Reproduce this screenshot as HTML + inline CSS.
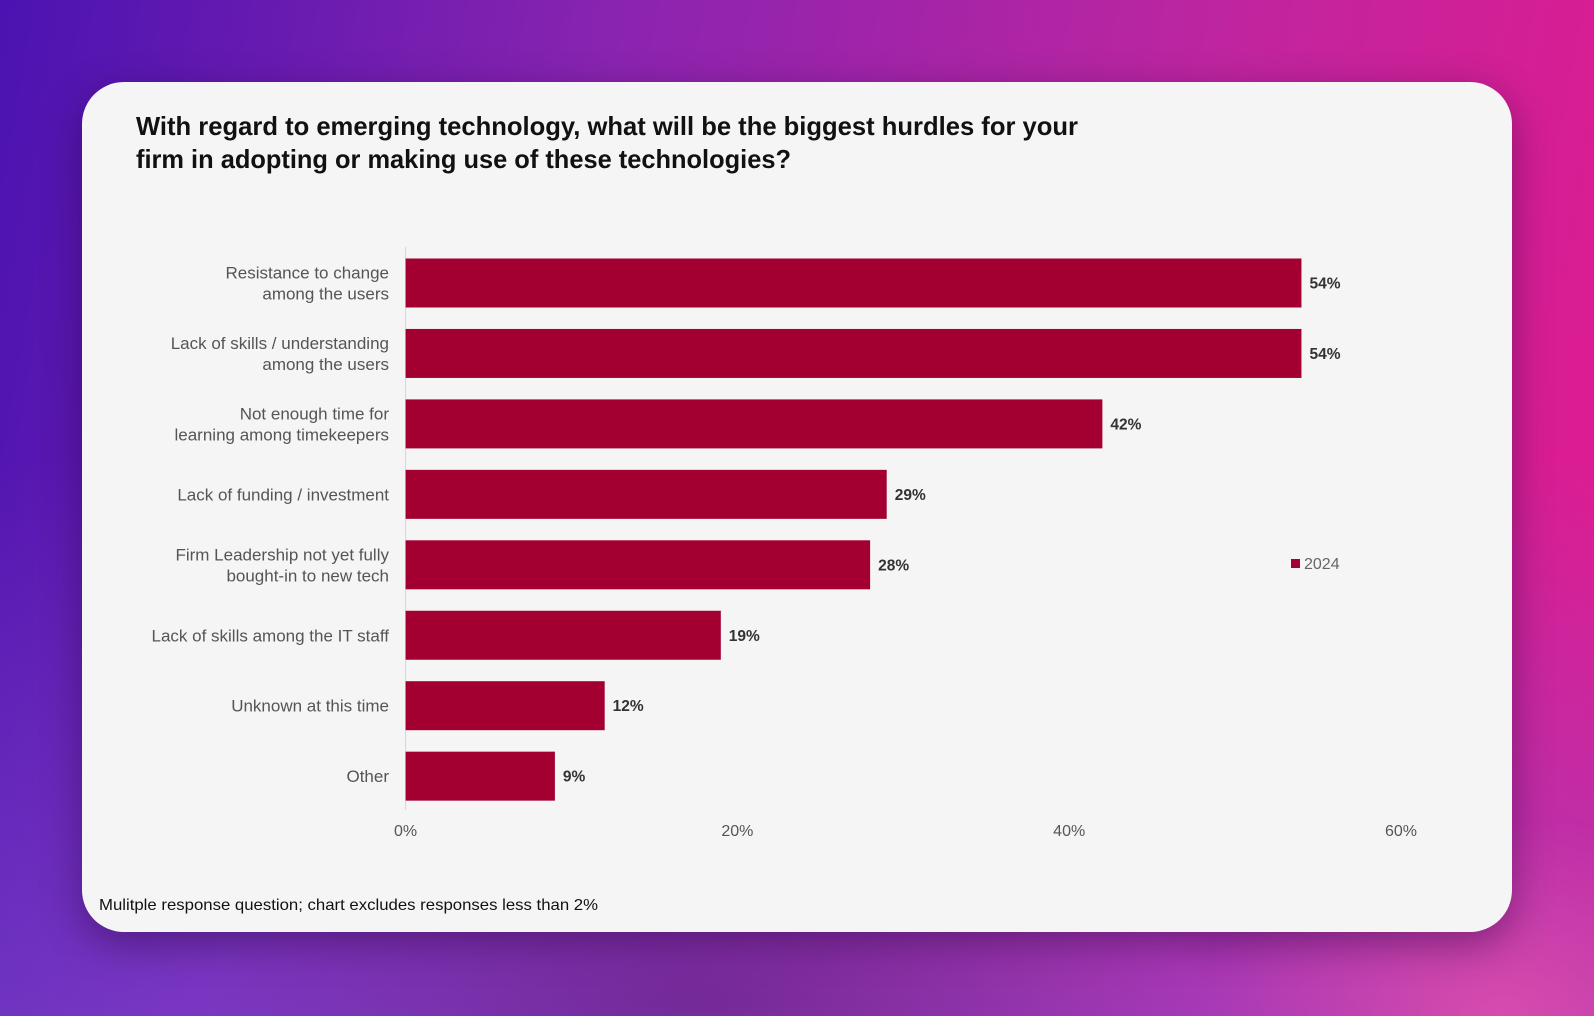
<!DOCTYPE html>
<html><head><meta charset="utf-8"><style>
html,body{margin:0;padding:0;width:1594px;height:1016px;overflow:hidden}
body{background:linear-gradient(100deg,#4b13b1 0%,#8a24b0 35%,#c0259f 70%,#e31a8e 100%);font-family:"Liberation Sans",sans-serif;position:relative}
#bg2{position:absolute;left:0;top:0;width:1594px;height:1016px;background:
radial-gradient(ellipse 300px 200px at 1500px 1016px,rgba(240,90,170,0.6),rgba(240,90,170,0) 100%),
radial-gradient(ellipse 500px 140px at 700px 1000px,rgba(60,10,80,0.35),rgba(60,10,80,0) 100%),
linear-gradient(180deg,rgba(0,0,0,0) 45%,rgba(130,80,210,0.5) 100%)}
#card{position:absolute;left:82px;top:82px;width:1430px;height:850px;background:#f5f5f5;border-radius:42px;box-shadow:0 12px 40px rgba(40,0,60,0.45)}
svg{position:absolute;left:0;top:0}
</style></head><body>
<div id="bg2"></div>
<div id="card"></div>
<svg id="chart" width="1594" height="1016">
<text x="136" y="135" font-size="26" font-weight="bold" fill="#111" textLength="942" lengthAdjust="spacingAndGlyphs">With regard to emerging technology, what will be the biggest hurdles for your</text>
<text x="136" y="168" font-size="26" font-weight="bold" fill="#111" textLength="655" lengthAdjust="spacingAndGlyphs">firm in adopting or making use of these technologies?</text>
<text x="99" y="910" font-size="16" fill="#111" textLength="499" lengthAdjust="spacingAndGlyphs">Mulitple response question; chart excludes responses less than 2%</text>
<rect x="1291" y="559" width="9" height="9" fill="#a30031"></rect>
<text x="1304" y="569" font-size="16" fill="#666">2024</text>
</svg>
<script>
const categories=[["Resistance to change","among the users"],["Lack of skills / understanding","among the users"],["Not enough time for","learning among timekeepers"],["Lack of funding / investment"],["Firm Leadership not yet fully","bought-in to new tech"],["Lack of skills among the IT staff"],["Unknown at this time"],["Other"]];
const values2024=[54,54,42,29,28,19,12,9];
const tickValues=[0,20,40,60];
const tickLabels=["0%","20%","40%","60%"];

const NS="http://www.w3.org/2000/svg";
const svg=document.getElementById('chart');
const x0=405.6,pxPer=(1401-405.6)/60;
const xs=v=>x0+v*pxPer;
const top0=258.5,band=70.45,barH=49;
const yc=i=>top0+barH/2+i*band;
function mk(tag,attrs){const e=document.createElementNS(NS,tag);for(const k in attrs)e.setAttribute(k,attrs[k]);svg.appendChild(e);return e;}

const axis=mk('line',{x1:x0,x2:x0,y1:247,y2:810,stroke:'#d6d6d6','stroke-width':1});



values2024.forEach((v,i)=>{
  const r=mk('rect',{x:x0,y:yc(i)-barH/2,width:xs(v)-x0,height:barH,fill:'#a30031'});
  
  
  const t=mk('text',{x:xs(v)+8,y:yc(i)+5.5,'font-size':15.5,'font-weight':'bold',fill:'#333'});
  t.textContent=v+'%';
  
  
  const lines=categories[i];
  lines.forEach((ln,j)=>{
    const off=lines.length===1?0:(j===0?-10.5:10.5);
    const c=mk('text',{x:389,y:yc(i)+off+6,'font-size':17,fill:'#555','text-anchor':'end'});
    c.textContent=ln;
    
    
  });
});
tickValues.forEach((v,i)=>{
  const t=mk('text',{x:xs(v),y:836,'font-size':16,fill:'#555','text-anchor':'middle'});
  t.textContent=tickLabels[i];
  
  
});
</script>
</body></html>
